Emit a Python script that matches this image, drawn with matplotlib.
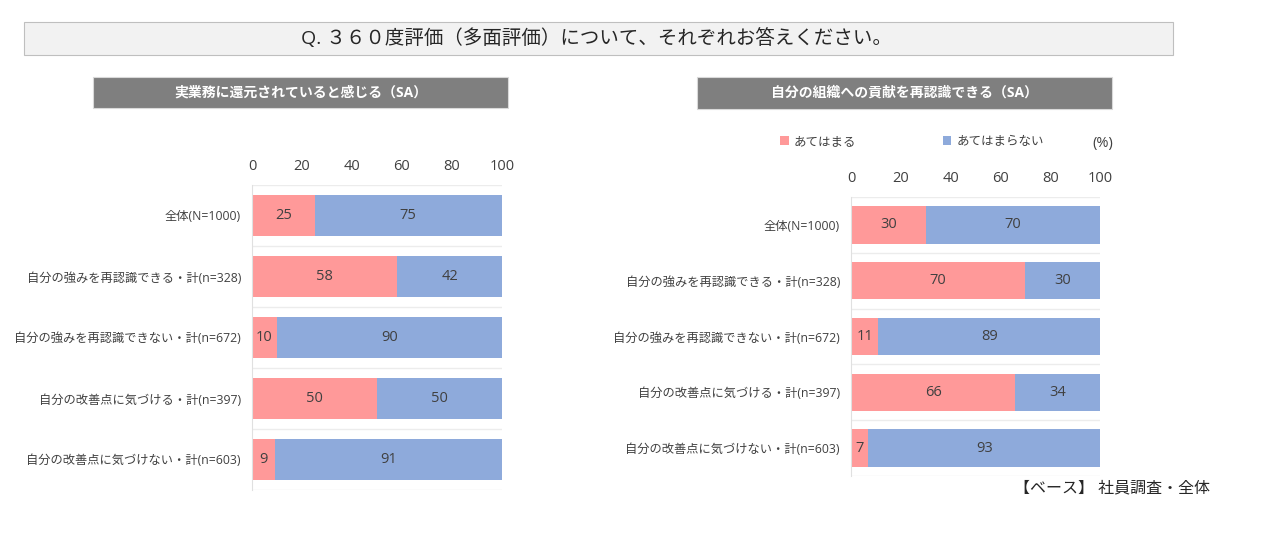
import numpy as np
import matplotlib.pyplot as plt
from matplotlib.patches import Rectangle

plt.rcParams['font.family'] = ['Open Sans', 'Noto Sans CJK JP', 'DejaVu Sans']

categories = ['全体(N=1000)', '自分の強みを再認識できる・計(n=328)', '自分の強みを再認識できない・計(n=672)',
              '自分の改善点に気づける・計(n=397)', '自分の改善点に気づけない・計(n=603)']
left_yes = [25, 58, 10, 50, 9]
left_no = [75, 42, 90, 50, 91]
right_yes = [30, 70, 11, 66, 7]
right_no = [70, 30, 89, 34, 93]
series_names = ['あてはまる', 'あてはまらない']
ticks = [0, 20, 40, 60, 80, 100]

pink = '#ff9999'
blue = '#8eaadb'
txt = '#404040'

fig = plt.figure(figsize=(12.67, 5.43), dpi=100)

# question box
fig.patches.append(Rectangle((24/1267, 1-55/543), (1173-24)/1267, 33/543, transform=fig.transFigure,
                             facecolor='#f2f2f2', edgecolor='#bfbfbf', lw=0.8))
fig.text(596/1267, 1-38/543, 'Q. ３６０度評価（多面評価）について、それぞれお答えください。',
         ha='center', va='center', fontsize=14, color='#262626')


def draw_panel(rect, yes, no, header, hbox, tickpad, bar_h):
    ax = fig.add_axes(rect)
    y = np.arange(len(categories))
    ax.barh(y, yes, height=bar_h, color=pink, label=series_names[0])
    ax.barh(y, no, left=yes, height=bar_h, color=blue, label=series_names[1])
    for i in range(len(y)):
        ax.text(yes[i]/2, y[i], str(yes[i]), ha='center', va='center', fontsize=10.5, color=txt)
        ax.text(yes[i] + no[i]/2, y[i], str(no[i]), ha='center', va='center', fontsize=10.5, color=txt)
    ax.set_xlim(0, 100)
    ax.set_ylim(len(y) - 0.5, -0.5)
    ax.set_yticks(y)
    ax.set_yticklabels(categories, fontsize=8.8, color=txt)
    ax.set_xticks(ticks)
    ax.xaxis.tick_top()
    ax.tick_params(axis='x', length=0, pad=tickpad, labelsize=10.5, labelcolor=txt)
    ax.tick_params(axis='y', length=0, pad=8)
    for b in np.arange(-0.5, len(y), 1):
        ax.axhline(b, color='#ececec', lw=1, zorder=0)
    for s in ['top', 'right', 'bottom']:
        ax.spines[s].set_visible(False)
    ax.spines['left'].set_color('#e0e0e0')
    x0, y0, x1, y1 = hbox
    fig.patches.append(Rectangle((x0/1267, 1-y1/543), (x1-x0)/1267, (y1-y0)/543, transform=fig.transFigure,
                                 facecolor='#7f7f7f', edgecolor='#d9d9d9', lw=0.8))
    fig.text((x0+x1)/2/1267, 1-(y0+y1)/2/543, header, ha='center', va='center',
             fontsize=10, color='white', fontweight='bold')
    return ax


draw_panel([252/1267, 1-490/543, 250/1267, 305/543], left_yes, left_no,
           '実業務に還元されていると感じる（SA）', (93, 77, 508, 108), 8, 0.67)
ax2 = draw_panel([851/1267, 1-476/543, 249/1267, 279/543], right_yes, right_no,
                 '自分の組織への貢献を再認識できる（SA）', (697, 77, 1112, 109), 8, 0.67)

# legend
ax2.legend(loc='lower left', bbox_to_anchor=(-0.33, 1.135), ncol=2, frameon=False, fontsize=9,
           handlelength=0.7, handleheight=0.7, columnspacing=6.9, handletextpad=0.4,
           labelcolor=txt)
fig.text(1103/1267, 1-144/543, '(%)', ha='center', va='center', fontsize=10.5, color=txt)

fig.text(1210/1267, 1-488/543, '【ベース】 社員調査・全体', ha='right', va='center', fontsize=11.5, color='#262626')

fig.savefig('out.png', dpi=100)
